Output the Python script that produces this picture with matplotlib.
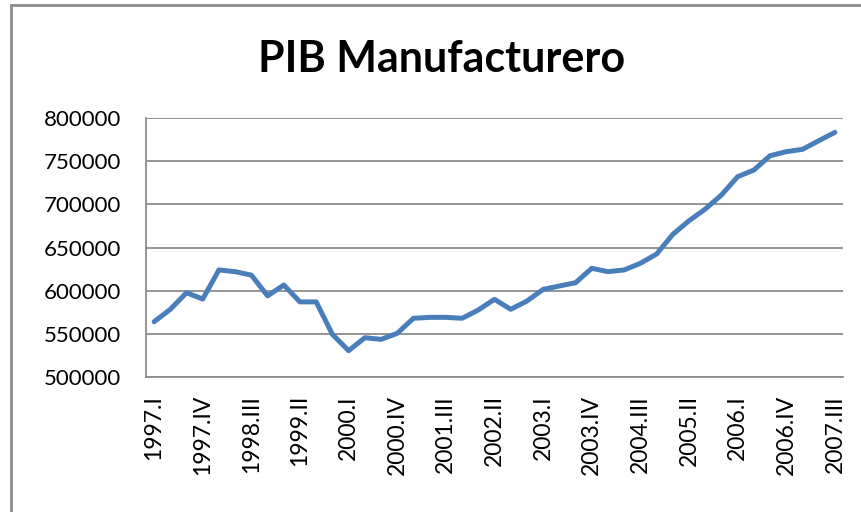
import matplotlib
matplotlib.use("Agg")
import matplotlib.pyplot as plt
from matplotlib.patches import Rectangle

years = list(range(1997, 2008))
quarters = ["I", "II", "III", "IV"]
categories = [f"{y}.{q}" for y in years for q in quarters][:43]

values = [564000, 578400, 597600, 590300, 624000, 622000, 618000, 594000,
          606500, 587000, 587000, 549400, 530500, 545500, 543600, 550600,
          568000, 569100, 569100, 568000, 577600, 590000, 578400, 588000,
          601500, 605400, 609200, 625900, 622000, 624000, 631700, 642400,
          665200, 681000, 694500, 710800, 732000, 739700, 756300, 761000,
          763700, 773600, 783400]

yticks = [500000, 550000, 600000, 650000, 700000, 750000, 800000]
title = "PIB Manufacturero"

plt.rcParams['font.family'] = ['Lato', 'DejaVu Sans']

fig = plt.figure(figsize=(8.62, 5.12), dpi=100)
fig.patch.set_facecolor("white")
# outer chart border
fig.patches.append(Rectangle((11 / 862, -0.05), 1.0, 1 - 5 / 512 + 0.05,
                             transform=fig.transFigure, fill=False,
                             edgecolor="#8c8c8c", linewidth=2))

ax = fig.add_axes([146 / 862, (512 - 377) / 512, 697 / 862, 259 / 512])
x = list(range(len(values)))
ax.plot(x, values, color="#4a7ebb", linewidth=3.6, solid_joinstyle="round",
        solid_capstyle="round")
ax.set_xlim(-0.5, len(values) - 0.5)
ax.set_ylim(500000, 800000)
ax.set_yticks(yticks)
ax.set_yticklabels([str(v) for v in yticks], fontsize=16)
ax.set_xticks(x[::3])
ax.set_xticklabels(categories[::3], rotation=90, fontsize=16.5)
ax.tick_params(axis="both", length=0)
ax.tick_params(axis="y", pad=18)
ax.tick_params(axis="x", pad=13)
ax.grid(axis="y", color="#8c8c8c", linewidth=1.3)
ax.set_axisbelow(True)
for s in ["top", "right"]:
    ax.spines[s].set_visible(False)
ax.spines["left"].set_color("#8c8c8c")
ax.spines["bottom"].set_color("#8c8c8c")
ax.spines["left"].set_linewidth(1.3)
ax.spines["bottom"].set_linewidth(1.3)

fig.text(442 / 862, 1 - 59 / 512, title, ha="center", va="center",
         fontsize=31, fontweight="bold")

fig.savefig("out.png", dpi=100)
